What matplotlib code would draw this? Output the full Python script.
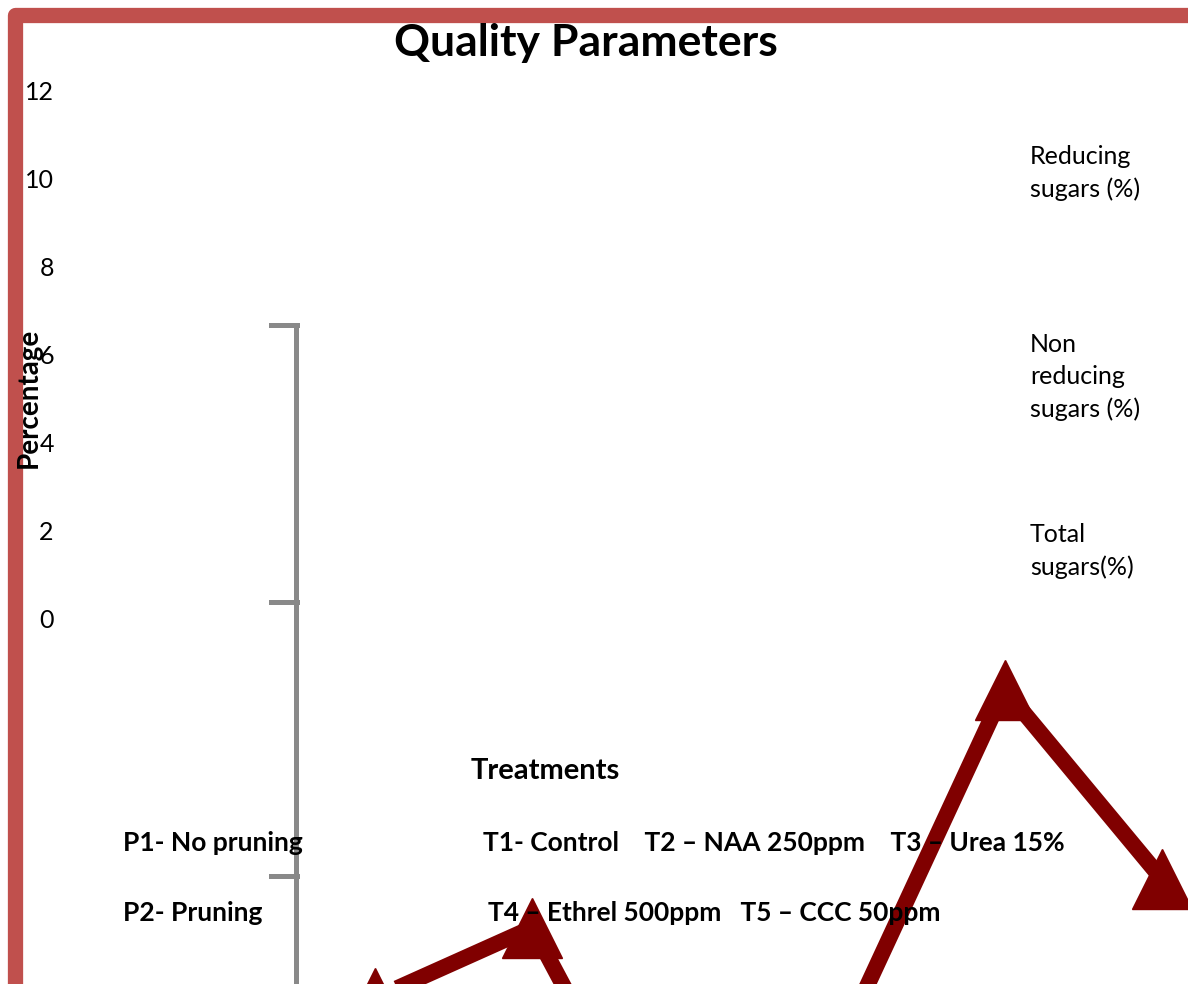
import matplotlib
matplotlib.use("Agg")
import matplotlib.pyplot as plt
from matplotlib.lines import Line2D

plt.rcParams['font.family'] = ['Lato', 'DejaVu Sans']

# data
categories = ['P1T1', 'P1T2', 'P1T3', 'P2T4', 'P2T5', 'P2T6']
values = [-8.6, -7.0, -13.7, -9.3, -1.6, -5.9]
y_ticks = [0, 2, 4, 6, 8, 10, 12]
legend_labels = ['Reducing\nsugars (%)', 'Non\nreducing\nsugars (%)', 'Total\nsugars(%)']
note_rows = [
    ('P1- No pruning', 'T1- Control    T2 \u2013 NAA 250ppm    T3 \u2013 Urea 15%'),
    ('P2- Pruning', 'T4 \u2013 Ethrel 500ppm   T5 \u2013 CCC 50ppm'),
]

W, H = 1188, 984
fig = plt.figure(figsize=(W / 100, H / 100), dpi=100)


def fx(px):
    return px / W


def fy(py):
    return 1 - py / H


# axes: left edge at px 58, full height
ax = fig.add_axes([fx(58), 0, fx(W - 58), 1])
x = list(range(len(categories)))
step = 157.4
ax.set_xlim(-(375 - 58) / step, 5 + (W - 1162) / step)
ppu = 44.08
ax.set_ylim(-(H - 619) / ppu, 619 / ppu)
ax.plot(x, values, color='#800000', lw=11.5, marker='^', ms=43,
        solid_joinstyle='miter', zorder=2, clip_on=False)
ax.set_yticks(y_ticks)
ax.set_yticklabels([str(t) for t in y_ticks], fontsize=18)
ax.tick_params(axis='y', length=0, pad=3)
ax.set_xticks([])
for s in ax.spines.values():
    s.set_visible(False)
ax.patch.set_alpha(0)

# grey bracket (category axis remains)
grey = '#898989'
fig.add_artist(Line2D([fx(296), fx(296)], [fy(325), fy(1000)], color=grey, lw=3.6))
for ty in [325, 602, 876]:
    fig.add_artist(Line2D([fx(271), fx(297)], [fy(ty), fy(ty)], color=grey, lw=3.6))

# red frame
fig.add_artist(Line2D([fx(14.5), fx(14.5), fx(1300)], [fy(1100), fy(14.5), fy(14.5)],
                      color='#C0504D', lw=11, solid_joinstyle='round',
                      solid_capstyle='butt'))

fig.text(fx(586), fy(43), 'Quality Parameters', fontsize=32, fontweight='bold',
         ha='center', va='center')
fig.text(fx(29), fy(398), 'Percentage', fontsize=20, fontweight='bold',
         rotation=90, ha='center', va='center')

for lab, top in zip(legend_labels, [145, 333, 523]):
    fig.text(fx(1030), fy(top), lab, fontsize=18, ha='left', va='top',
             linespacing=1.47)

fig.text(fx(545), fy(771), 'Treatments', fontsize=21, fontweight='bold',
         ha='center', va='center', zorder=5)
for (left, right), ty, rx in zip(note_rows, [843, 913], [483, 488]):
    fig.text(fx(123), fy(ty), left, fontsize=19, fontweight='bold',
             ha='left', va='center', zorder=5)
    fig.text(fx(rx), fy(ty), right, fontsize=19, fontweight='bold',
             ha='left', va='center', zorder=5)

fig.savefig('out.png', dpi=100)
